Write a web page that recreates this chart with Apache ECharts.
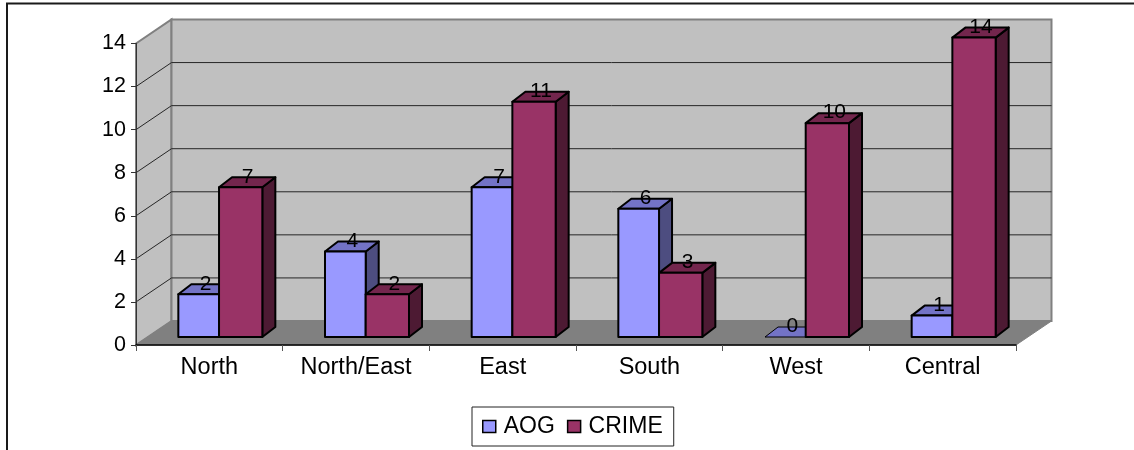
<!DOCTYPE html>
<html>
<head>
<meta charset="utf-8">
<style>html,body{margin:0;padding:0;background:#fff}#c{width:1134px;height:450px}</style>
<script src="https://cdn.jsdelivr.net/npm/echarts@6/dist/echarts.min.js"></script>
</head>
<body>
<div id="c"></div>
<script>
var categories = ['North', 'North/East', 'East', 'South', 'West', 'Central'];
var aogValues = [2, 4, 7, 6, 0, 1];
var crimeValues = [7, 2, 11, 3, 10, 14];
var yTicks = [0, 2, 4, 6, 8, 10, 12, 14];

var FONT = '"Liberation Sans", Arial, sans-serif';
var WALL_DX = 35.5, WALL_DY = 24;     // back wall offset
var BAR_DY = 8;                       // bar front face offset from axis plane
var SIDE_DX = 13, SIDE_DY = 10;       // bar depth
var HEIGHT_SCALE = 0.993;

var chart = echarts.init(document.getElementById('c'), null, {renderer: 'canvas'});

function renderWalls(params, api) {
  var cs = params.coordSys;
  var l = cs.x, r = cs.x + cs.width, t = cs.y, b = cs.y + cs.height;
  var stroke = '#808080';
  return {type: 'group', children: [
    {type: 'polygon', shape: {points: [[l, b], [l, t], [l + WALL_DX, t - WALL_DY], [l + WALL_DX, b - WALL_DY]]},
      style: {fill: '#C0C0C0', stroke: stroke, lineWidth: 2}},
    {type: 'polygon', shape: {points: [[l + WALL_DX, b - WALL_DY], [l + WALL_DX, t - WALL_DY], [r + WALL_DX, t - WALL_DY], [r + WALL_DX, b - WALL_DY]]},
      style: {fill: '#C0C0C0', stroke: stroke, lineWidth: 2}},
    {type: 'polygon', shape: {points: [[l, b], [l + WALL_DX, b - WALL_DY], [r + WALL_DX, b - WALL_DY], [r, b]]},
      style: {fill: '#808080', stroke: stroke, lineWidth: 1}}
  ]};
}

function renderGrid(params, api) {
  var cs = params.coordSys;
  var l = cs.x, r = cs.x + cs.width;
  var v = api.value(0);
  if (v === 0 || v === 14) return {type: 'group', children: []};
  var y = api.coord([0, v])[1];
  return {type: 'polyline',
    shape: {points: [[l, y], [l + WALL_DX, y - WALL_DY], [r + WALL_DX, y - WALL_DY]]},
    style: {fill: 'none', stroke: '#262626', lineWidth: 1}};
}

function makeBar(x0Off, x1Off, front, top, side) {
  return function (params, api) {
    var idx = api.value(0), val = api.value(1);
    var base = api.coord([idx, 0]);
    var tip = api.coord([idx, val]);
    var yB = base[1] - BAR_DY;
    var yT = yB - (base[1] - tip[1]) * HEIGHT_SCALE;
    var x0 = base[0] + x0Off, x1 = base[0] + x1Off;
    var stroke = {stroke: '#000', lineWidth: 2, lineJoin: 'round'};
    var children = [];
    if (val > 0) {
      children.push({type: 'polygon', shape: {points: [[x1, yB], [x1 + SIDE_DX, yB - SIDE_DY], [x1 + SIDE_DX, yT - SIDE_DY], [x1, yT]]},
        style: Object.assign({fill: side}, stroke)});
    }
    children.push({type: 'polygon', shape: {points: [[x0, yT], [x0 + SIDE_DX, yT - SIDE_DY], [x1 + SIDE_DX, yT - SIDE_DY], [x1, yT]]},
      style: Object.assign({fill: top}, val > 0 ? stroke : {stroke: '#000', lineWidth: 1})});
    if (val > 0) {
      children.push({type: 'rect', shape: {x: x0, y: yT, width: x1 - x0, height: yB - yT},
        style: Object.assign({fill: front}, stroke)});
    }
    children.push({type: 'text', z2: 100, style: {
      text: String(val), x: (x0 + x1) / 2 + 7, y: yT - 10.5,
      align: 'center', verticalAlign: 'middle',
      fill: '#000', font: '21px ' + FONT}});
    return {type: 'group', children: children};
  };
}

function pairs(values) { return values.map(function (v, i) { return [i, v]; }); }

chart.setOption({
  animation: false,
  backgroundColor: '#fff',
  grid: {left: 136, right: 118, top: 43.5, bottom: 105, containLabel: false},
  xAxis: {
    type: 'category', data: categories, z: 3,
    axisLine: {show: true, lineStyle: {color: '#000', width: 1.5}},
    axisTick: {show: true, length: 6, lineStyle: {color: '#555', width: 1}},
    axisLabel: {color: '#000', fontSize: 23.5, fontFamily: FONT, margin: 11, interval: 0}
  },
  yAxis: {
    type: 'value', min: 0, max: 14, interval: 2, z: 3,
    splitLine: {show: false},
    axisLine: {show: true, lineStyle: {color: '#333', width: 1}},
    axisTick: {show: true, length: 5, lineStyle: {color: '#333', width: 1}},
    axisLabel: {color: '#000', fontSize: 21.5, fontFamily: FONT, margin: 10,
      customValues: yTicks}
  },
  legend: {
    data: ['AOG', 'CRIME'], left: 472, top: 407, orient: 'horizontal',
    icon: 'rect', itemWidth: 13, itemHeight: 12, itemGap: 12,
    padding: [8, 11, 8, 10], backgroundColor: '#fff',
    borderColor: '#222', borderWidth: 1,
    selectedMode: false,
    itemStyle: {borderColor: '#000', borderWidth: 1.5},
    textStyle: {color: '#000', fontSize: 23, fontFamily: FONT, padding: [0, 0, 0, 3]}
  },
  graphic: [{
    type: 'polyline', silent: true, z: 10,
    shape: {points: [[7, 450], [7, 3.5], [1134, 3.5]]},
    style: {fill: 'none', stroke: '#1a1a1a', lineWidth: 2}
  }],
  series: [
    {type: 'custom', name: 'walls', z: 1, silent: true, data: [[0, 0]], renderItem: renderWalls, encode: {x: 0, y: 1}},
    {type: 'custom', name: 'gridlines', z: 1, silent: true, data: yTicks.map(function (v) { return [v]; }),
      renderItem: renderGrid, encode: {y: 0}},
    {type: 'custom', name: 'AOG', z: 2, data: pairs(aogValues), itemStyle: {color: '#9999FF'},
      renderItem: makeBar(-31, 9.7, '#9999FF', '#7373C6', '#4D4D80'), encode: {x: 0, y: 1}},
    {type: 'custom', name: 'CRIME', z: 2, data: pairs(crimeValues), itemStyle: {color: '#993366'},
      renderItem: makeBar(9.7, 53, '#993366', '#73264D', '#4D1A33'), encode: {x: 0, y: 1}}
  ]
});
</script>
</body>
</html>
